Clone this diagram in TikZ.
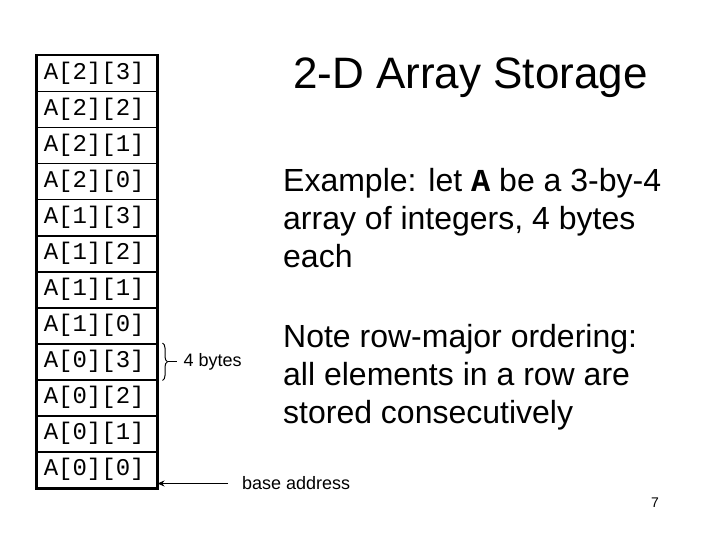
\documentclass[tikz,border=0pt]{standalone}
\usepackage{fontspec}
\setmainfont{Liberation Sans}
\setmonofont{Liberation Mono}
\usetikzlibrary{arrows.meta,positioning,decorations.pathreplacing}

\tikzset{
  cellbox/.style={draw,line width=1.5pt,minimum width=120pt,minimum height=36pt,
    text width=106pt,inner xsep=7pt,align=left,font=\fontsize{24}{28}\selectfont\ttfamily},
  bodytext/.style={inner sep=0pt,align=left,anchor=north west,font=\fontsize{32}{38}\selectfont},
  smalltext/.style={inner sep=0pt,font=\fontsize{18}{22}\selectfont}
}

\begin{document}
\begin{tikzpicture}[x=1pt,y=-1pt]
  \useasboundingbox (0,0) rectangle (720,540);
  % memory cells, highest address on top
  \foreach \r in {0,1,2}{
    \foreach \c in {0,...,3}{
      \pgfmathsetmacro\ytop{55+36*(11-4*\r-\c)}
      \node[cellbox,anchor=north west] (a\r\c) at (36,\ytop) {A[\r][\c]};
    }
  }
  \draw[line width=2.5pt] (a23.north west) rectangle (a00.south east);
  \node[anchor=base west,inner sep=0pt,font=\fontsize{44}{50}\selectfont] (title) at (293,89) {2-D Array Storage};
  \node[bodytext] (example) at (283,168) {Example: let \texttt{\bfseries A} be a 3-by-4\\array of integers, 4 bytes\\each};
  \node[bodytext] (note) at (283,324) {Note row-major ordering:\\all elements in a row are\\stored consecutively};
  % one element = 4 bytes
  \draw[line width=1pt,decorate,decoration={brace,amplitude=5pt}]
    ([xshift=5pt]a03.north east) -- ([xshift=5pt]a03.south east);
  \coordinate (tip) at ([xshift=10pt]a03.east);
  \node[smalltext,anchor=west] (bytes) at ([xshift=26pt]a03.east) {4 bytes};
  \draw[line width=1pt] (tip) -- ([xshift=-7pt]bytes.west);
  % base address
  \node[smalltext,anchor=west] (addr) at (242,483) {base address};
  \coordinate (base) at ([yshift=5pt]a00.south east);
  \draw[line width=1.5pt,-{Stealth[length=7pt,width=6pt]}] ([xshift=-14pt]addr.west |- base) -- (base);
  \node[inner sep=0pt,font=\fontsize{14}{16}\selectfont] (page) at (655,503) {7};
\end{tikzpicture}
\end{document}
